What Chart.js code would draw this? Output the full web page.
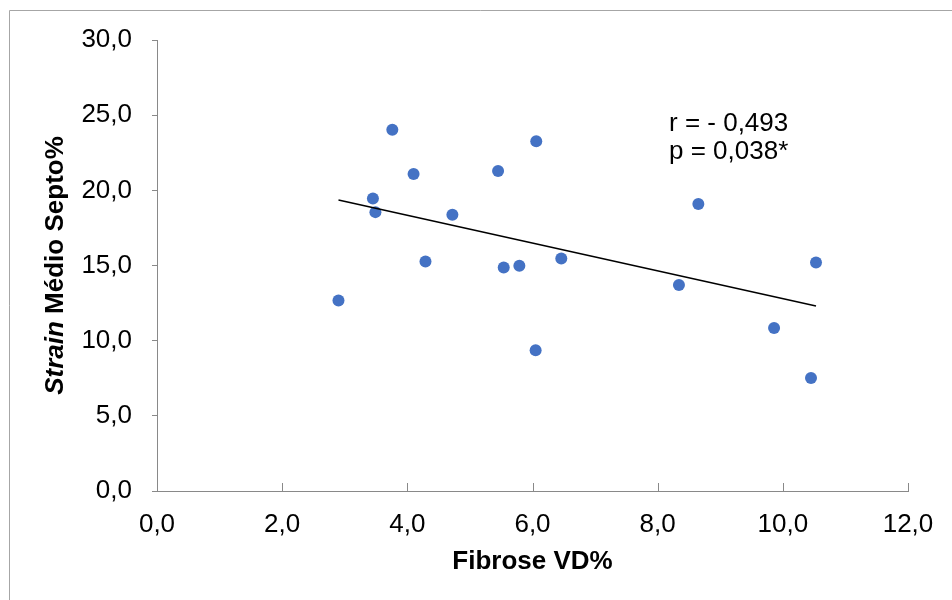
<!DOCTYPE html>
<html>
<head>
<meta charset="utf-8">
<script src="https://cdn.jsdelivr.net/npm/chart.js@4"></script>
<style>
  html, body { margin: 0; padding: 0; background: #fff; }
  canvas { display: block; }
</style>
</head>
<body>
<canvas id="mainChart" width="952" height="600"></canvas>
<script>
// Values
const fibroseVD = [3.76, 6.06, 4.10, 5.45, 3.45, 3.49, 4.72, 4.29, 5.54, 5.79, 6.46, 2.90, 6.05, 8.65, 10.53, 8.34, 9.86, 10.45];
const strainSepto = [24.03, 23.26, 21.08, 21.28, 19.46, 18.55, 18.38, 15.27, 14.87, 14.98, 15.47, 12.67, 9.37, 19.09, 15.20, 13.71, 10.85, 7.52];

// Trend line end points (as drawn in the reference)
const trendX = [2.90, 10.53];
const trendY = [19.35, 12.30];

const statLines = ['r = - 0,493', 'p = 0,038*'];
const xTitle = 'Fibrose VD%';
const yTitleItalic = 'Strain';
const yTitleRest = ' Médio Septo%';

const FONT = "'Liberation Sans', Arial, sans-serif";
const AXIS_GRAY = '#898989';

const fmt = v => Number(v).toFixed(1).replace('.', ',');

const points = fibroseVD.map((x, i) => ({ x: x, y: strainSepto[i] }));
const trend = trendX.map((x, i) => ({ x: x, y: trendY[i] }));

// draws the outer frame, inward x ticks, the y title and the r/p note
const extrasPlugin = {
    id: 'extras',
    beforeDraw(chart) {
        const ctx = chart.ctx;
        ctx.save();
        ctx.strokeStyle = '#a6a6a6';
        ctx.lineWidth = 1;
        ctx.beginPath();
        ctx.moveTo(9.5, 600);
        ctx.lineTo(9.5, 10.5);
        ctx.lineTo(952, 10.5);
        ctx.stroke();
        ctx.restore();
    },
    afterDraw(chart) {
        const ctx = chart.ctx;
        const xs = chart.scales.x;
        const ys = chart.scales.y;
        const area = chart.chartArea;

        // x ticks point up into the plot
        ctx.save();
        ctx.strokeStyle = AXIS_GRAY;
        ctx.lineWidth = 1;
        xs.ticks.forEach(t => {
            if (t.value === 0) return;
            const px = Math.round(xs.getPixelForValue(t.value)) + 0.5;
            ctx.beginPath();
            ctx.moveTo(px, area.bottom);
            ctx.lineTo(px, area.bottom - 8);
            ctx.stroke();
        });
        ctx.restore();

        // y title: "Strain" bold italic, rest bold
        ctx.save();
        const fItalic = 'italic bold 26px ' + FONT;
        const fBold = 'bold 26px ' + FONT;
        ctx.font = fItalic;
        const w1 = ctx.measureText(yTitleItalic).width;
        ctx.font = fBold;
        const w2 = ctx.measureText(yTitleRest).width;
        const cy = (ys.getPixelForValue(30) + ys.getPixelForValue(0)) / 2;
        ctx.translate(56, cy);
        ctx.rotate(-Math.PI / 2);
        ctx.fillStyle = '#000';
        ctx.textBaseline = 'middle';
        ctx.textAlign = 'left';
        const start = -(w1 + w2) / 2;
        ctx.font = fItalic;
        ctx.fillText(yTitleItalic, start, 0);
        ctx.font = fBold;
        ctx.fillText(yTitleRest, start + w1, 0);
        ctx.restore();

        // correlation note
        ctx.save();
        ctx.font = '26px ' + FONT;
        ctx.fillStyle = '#000';
        ctx.textAlign = 'left';
        ctx.textBaseline = 'alphabetic';
        statLines.forEach((line, i) => {
            ctx.fillText(line, 669, 131 + i * 28);
        });
        ctx.restore();
    }
};

const ctx = document.getElementById('mainChart').getContext('2d');

new Chart(ctx, {
    type: 'scatter',
    data: {
        datasets: [
            {
                type: 'line',
                label: 'Tendência',
                data: trend,
                borderColor: '#000',
                borderWidth: 1.5,
                pointRadius: 0,
                fill: false,
                tension: 0
            },
            {
                label: 'Strain',
                data: points,
                backgroundColor: '#4472C4',
                borderColor: '#4472C4',
                borderWidth: 0,
                pointRadius: 6
            }
        ]
    },
    options: {
        responsive: false,
        animation: false,
        layout: {
            padding: { left: 0, top: 40, right: 44, bottom: 0 }
        },
        scales: {
            x: {
                type: 'linear',
                min: 0,
                max: 12,
                ticks: {
                    stepSize: 2,
                    color: '#000',
                    font: { family: FONT, size: 26 },
                    padding: 18,
                    maxRotation: 0,
                    callback: v => fmt(v)
                },
                grid: { display: false, drawTicks: false },
                border: { display: true, color: AXIS_GRAY, width: 1 },
                title: {
                    display: true,
                    text: xTitle,
                    color: '#000',
                    font: { family: FONT, size: 26, weight: 'bold' },
                    padding: { top: 4, bottom: 23 }
                },
                afterFit: scale => { scale.height = 109; }
            },
            y: {
                type: 'linear',
                min: 0,
                max: 30,
                ticks: {
                    stepSize: 5,
                    color: '#000',
                    font: { family: FONT, size: 26 },
                    padding: 20,
                    callback: v => fmt(v)
                },
                grid: {
                    display: true,
                    drawOnChartArea: false,
                    drawTicks: true,
                    tickLength: 5,
                    color: AXIS_GRAY
                },
                border: { display: true, color: AXIS_GRAY, width: 1 },
                afterFit: scale => { scale.width = 157; }
            }
        },
        plugins: {
            legend: { display: false },
            tooltip: { enabled: false }
        }
    },
    plugins: [extrasPlugin]
});
</script>
</body>
</html>
